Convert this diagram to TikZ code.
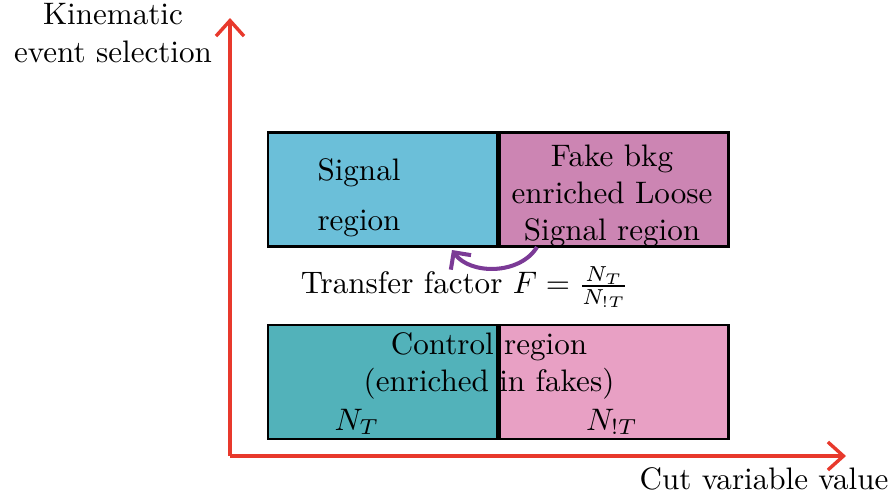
\documentclass[tikz,border=0pt]{standalone}
\usepackage{amsmath}
\usepackage{xcolor}
\usetikzlibrary{positioning,arrows.meta}

\definecolor{axisred}{HTML}{E8392C}
\definecolor{sigblue}{HTML}{6BBFD9}
\definecolor{loosepink}{HTML}{CC85B3}
\definecolor{ctrlteal}{HTML}{52B2BA}
\definecolor{ctrlpink}{HTML}{E8A0C4}
\definecolor{arcpurple}{HTML}{7B3A96}

\begin{document}
\begin{tikzpicture}[
  x=0.0113cm, y=-0.0113cm,
  regionbox/.style={
    draw=black,
    thick,
    rectangle,
    minimum width=2.59cm,
    minimum height=1.285cm,
    inner sep=0pt
  },
  plain/.style={align=center, inner sep=0pt},
  axis/.style={draw=axisred, line width=1.1pt, -{Straight Barb[length=5pt,width=9pt]}}
]
\useasboundingbox (0,0) rectangle (896,497);

% axes
\coordinate (origin) at (230,456);
\coordinate (ytip) at (230,18);
\coordinate (xtip) at (846,456);
\draw[axis] (origin) -- (ytip);
\draw[axis] (origin) -- (xtip);

\node[plain] (ylabel) at (113,33) {Kinematic\\event selection};
\node[plain] (xlabel) at (764,479) {Cut variable value};

% regions
\node[regionbox, fill=sigblue] (sr) at (382.5,189.5) {};
\node[regionbox, fill=loosepink, right=0pt of sr] (lsr) {};
\node[regionbox, fill=ctrlteal] (crt) at (382.5,382) {};
\node[regionbox, fill=ctrlpink, right=0pt of crt] (crnt) {};

\node[plain] (srtext) at (359,198) {Signal\\[4pt]region};
\node[plain] (lsrtext) at (612,196) {Fake bkg\\enriched Loose\\Signal region};
\node[plain] (crtext) at (489,366) {Control region\\(enriched in fakes)};
\node[plain] (nt) at (357,422) {$N_T$};
\node[plain] (nnt) at (612,422) {$N_{!T}$};

% transfer
\coordinate (arcstart) at (537,247);
\coordinate (arcend) at (452,250);
\draw[arcpurple, line width=1.3pt, -{Straight Barb[length=4pt,width=8pt]}]
  (arcstart) .. controls (520,275) and (470,275) .. (arcend);
\node[plain] (tf) at (465,287) {Transfer factor $F=\frac{N_T}{N_{!T}}$};

\end{tikzpicture}
\end{document}
